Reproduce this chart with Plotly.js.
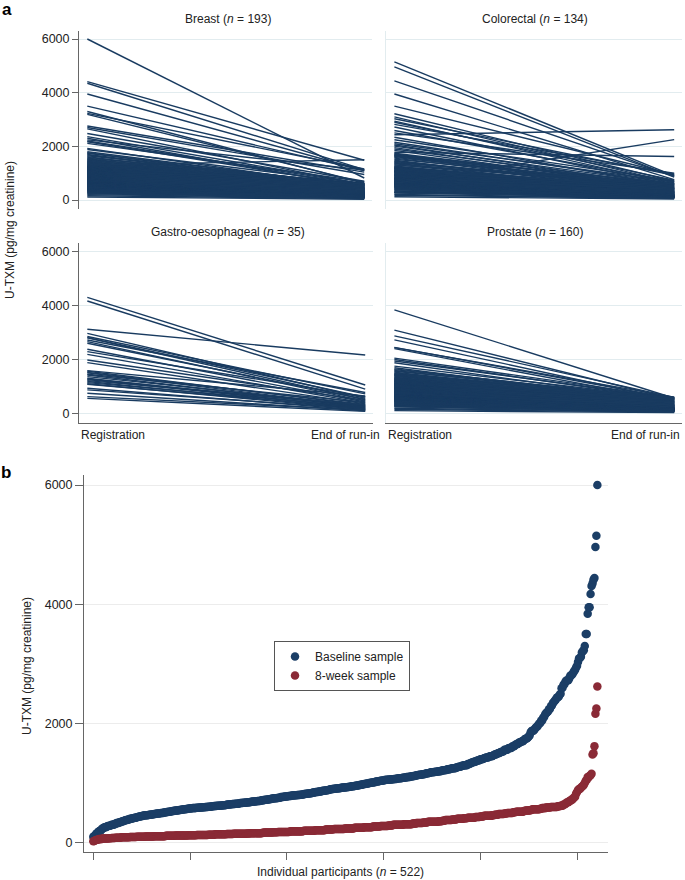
<!DOCTYPE html>
<html><head><meta charset="utf-8">
<script src="https://cdn.plot.ly/plotly-3.0.1.min.js"></script>
<style>html,body{margin:0;padding:0;background:#fff}#chart{width:685px;height:880px}</style>
</head><body><div id="chart"></div>
<script>
const timeLabels = ['Registration', 'End of run-in'];
const yTicks = [0, 2000, 4000, 6000];
const participantTicks = [0, 100, 200, 300, 400, 500];
const cancerNames = ['Breast', 'Colorectal', 'Gastro-oesophageal', 'Prostate'];
const cancerN = [193, 134, 35, 160];
const seriesNames = ['Baseline sample', '8-week sample'];

const breastReg = [6000,4410,4350,3950,3500,3300,3230,3190,2760,2700,2650,2480,2360,2300,2240,2200,2170,2110,1925,1880,1800,1760,1740,1700,1680,1650,1615,
1590,1560,1535,1510,1490,1470,1450,
1430,1415,1400,1385,1370,1350,1335,1320,1300,1290,1275,1260,1250,1240,1230,1220,1210,1200,1195,
1185,1180,1170,1165,1155,1150,1140,1130,1125,1115,1110,1100,1095,1090,1080,1075,1070,1065,1060,1055,
1045,1040,1030,1025,1015,1010,1000,995,990,980,970,965,960,950,945,940,935,925,920,915,
905,900,895,885,880,870,865,860,850,845,840,830,825,820,815,805,800,795,790,785,
775,770,765,755,750,745,740,735,725,720,715,710,700,695,690,685,680,675,670,665,
655,652,648,645,640,636,632,628,625,620,616,612,608,604,600,595,590,586,582,578,
572,565,560,552,545,540,535,528,520,515,508,500,495,490,485,478,472,465,460,455,
445,435,425,415,410,400,390,380,370,360,345,330,315,300,280,260,
235,200,160,110];
const breastEnd = [820,1480,1130,1100,1100,620,1155,650,1040,950,560,700,600,480,1120,590,520,680,450,610,500,380,540,420,350,570,300,
540,610,420,580,350,500,290,
460,250,600,380,520,310,440,200,1500,560,330,480,230,410,590,270,360,180,450,
530,210,390,300,470,160,560,250,340,420,190,600,280,370,140,510,230,320,440,260,
400,170,290,550,220,360,130,480,310,240,410,150,520,270,350,200,460,120,330,250,
380,140,260,490,200,310,110,420,230,170,350,270,150,450,190,300,125,240,400,160,
330,180,250,120,430,210,150,290,100,360,195,270,140,220,390,115,250,175,310,135,
280,150,210,105,340,175,125,240,190,95,300,160,220,130,260,110,185,145,230,120,
250,130,180,100,205,150,90,220,165,115,190,140,85,210,125,170,105,155,75,135,
180,110,145,90,160,120,70,135,100,150,80,115,95,125,60,105,
90,70,50,30];

const colorectalReg = [5150,4960,4440,3950,3500,3215,3100,3030,2940,2900,2820,2720,2590,2500,2430,2340,2245,2150,2095,2050,2010,1950,1900,1850,1780,1745,1720,1700,1680,1660,1640,1620,
1590,1560,1520,1480,1450,
1430,1400,1380,1350,1320,1300,1270,1250,1230,1215,1200,1190,
1180,1165,1150,1135,1120,1105,1090,1080,1070,1060,1055,1050,
1040,1025,1010,1000,985,970,955,945,935,925,915,910,
900,890,875,860,850,835,820,810,800,795,790,785,
775,765,750,740,730,720,710,700,690,680,670,665,
655,650,640,630,620,615,605,600,595,590,585,580,
570,560,550,540,530,520,510,500,490,480,470,460,
440,420,400,380,350,330,300,290,280,260,
210,180,120];
const colorectalEnd = [900,850,880,760,940,700,640,920,600,740,970,560,680,1000,2620,520,720,610,670,470,580,430,540,390,1620,500,350,590,450,300,620,410,
480,330,560,270,430,
380,520,240,450,310,600,200,400,290,350,170,470,
260,420,150,340,220,500,180,300,130,390,240,160,
310,140,440,200,260,120,370,180,230,330,110,280,
210,350,130,270,160,400,110,240,190,300,145,225,
170,260,100,320,140,210,120,280,155,190,230,110,
150,240,95,190,125,2250,165,105,210,135,180,115,
140,200,90,160,115,175,100,130,85,150,110,125,
95,140,80,120,105,70,90,115,85,100,
75,60,40];

const gastroReg = [4305,4170,3120,2970,2850,2810,2800,2720,2660,2600,2380,2290,2190,1980,1880,1585,1560,1520,1500,1450,1420,1360,1300,1275,1250,1215,1180,1140,1100,1075,930,870,745,620,555];
const gastroEnd = [1050,900,2165,560,720,600,500,770,450,520,420,620,380,480,350,640,300,330,250,400,220,280,180,260,200,310,150,230,130,190,110,160,90,120,70];

const prostateReg = [3840,3090,2875,2725,2450,2440,2400,2050,2000,1940,1875,1750,1690,1650,1620,
1590,1560,1530,1500,1480,1460,1440,
1430,1410,1400,1380,1360,1340,1320,1300,1290,1280,1260,1250,1240,1230,1220,1210,1200,1190,
1185,1175,1160,1150,1140,1130,1120,1110,1100,1095,1085,1080,1070,1065,1060,1055,1050,
1045,1035,1025,1015,1005,995,985,975,965,955,945,940,930,925,920,915,910,
905,895,880,870,860,850,840,830,825,815,810,805,800,795,790,785,780,
775,765,755,745,735,725,715,705,700,695,690,685,680,675,670,665,660,
655,650,645,640,630,625,620,615,610,605,600,596,592,588,584,580,577,
572,565,555,548,540,532,525,515,505,498,490,482,475,468,462,456,451,
445,430,420,405,390,375,360,345,330,315,300,285,270,255,
240,190,150,100];
const prostateEnd = [560,520,590,480,540,600,450,580,510,570,430,550,400,490,530,
470,560,380,520,440,590,350,
500,310,420,260,580,370,220,460,330,540,280,400,190,350,490,240,430,300,
270,450,180,360,230,510,150,320,410,200,290,130,380,250,170,340,210,
300,160,420,230,120,350,190,270,140,390,210,110,320,250,175,145,280,
240,130,300,180,110,260,160,340,200,125,220,150,280,105,190,145,230,
170,250,120,200,140,310,100,180,230,130,160,95,210,150,115,190,135,
160,110,200,135,90,175,125,240,145,105,190,120,155,85,170,130,115,
140,95,180,120,160,80,135,105,150,115,90,170,125,100,145,110,85,
120,80,140,100,70,115,90,130,75,105,65,95,85,60,
70,55,45,25];

// ---------- helpers ----------
const W = 685, H = 880;
const fx = v => v / W;
const fy = v => 1 - v / H;
const NAVY = '#193b60';
const BLUE = '#1b3e66';
const RED = '#8a2a36';
const AXIS = '#666666';
const GRID = '#e2ecef';
const FONT = 'Liberation Sans, Arial, Helvetica, sans-serif';

function spaghetti(reg, end, xa, ya) {
  const x = [], y = [];
  for (let i = 0; i < reg.length; i++) {
    x.push(timeLabels[0], timeLabels[1], null);
    y.push(reg[i], end[i], null);
  }
  return {type: 'scatter', mode: 'lines', x: x, y: y, xaxis: xa, yaxis: ya,
    line: {color: NAVY, width: 1.4}, hoverinfo: 'skip', showlegend: false, connectgaps: false};
}

const groups = [
  [breastReg, breastEnd, 'x', 'y'],
  [colorectalReg, colorectalEnd, 'x2', 'y2'],
  [gastroReg, gastroEnd, 'x3', 'y3'],
  [prostateReg, prostateEnd, 'x4', 'y4']
];
const traces = groups.map(g => spaghetti(g[0], g[1], g[2], g[3]));

const allReg = [].concat(breastReg, colorectalReg, gastroReg, prostateReg).sort((a, b) => a - b);
const allEnd = [].concat(breastEnd, colorectalEnd, gastroEnd, prostateEnd).sort((a, b) => a - b);
const ranks = allReg.map((_, i) => i);

traces.push({type: 'scatter', mode: 'markers', name: seriesNames[0], x: ranks, y: allReg,
  xaxis: 'x5', yaxis: 'y5', marker: {color: BLUE, size: 8.5}, hoverinfo: 'skip'});
traces.push({type: 'scatter', mode: 'markers', name: seriesNames[1], x: ranks, y: allEnd,
  xaxis: 'x5', yaxis: 'y5', marker: {color: RED, size: 8.5}, hoverinfo: 'skip'});

// ---------- axes ----------
const catRange = [-0.03, 1.028];
function xa(d0, d1, line, anchor) {
  return {domain: [fx(d0), fx(d1)], type: 'category', categoryarray: timeLabels, range: catRange,
    showgrid: false, zeroline: false, showticklabels: false, ticks: '',
    showline: line, linecolor: AXIS, linewidth: 1, anchor: anchor, fixedrange: true};
}
function ya(top, bottom, rng, left, anchor) {
  return {domain: [fy(bottom), fy(top)], range: rng, tickvals: yTicks,
    showticklabels: left, ticks: left ? 'outside' : '', ticklen: 6, tickcolor: AXIS,
    showline: true, linecolor: left ? AXIS : GRID, linewidth: 1,
    showgrid: true, gridcolor: GRID, gridwidth: 1, zeroline: false,
    tickfont: {size: 12.5, color: '#222', family: FONT}, anchor: anchor, fixedrange: true};
}

const layout = {
  width: W, height: H, margin: {l: 0, r: 0, t: 0, b: 0},
  paper_bgcolor: '#fff', plot_bgcolor: 'rgba(0,0,0,0)',
  font: {family: FONT, size: 12, color: '#222'},
  xaxis: xa(79, 372, false, 'y'),
  yaxis: ya(31, 209, [-335, 6298], true, 'x'),
  xaxis2: xa(386, 682, false, 'y2'),
  yaxis2: ya(31, 209, [-335, 6298], false, 'x2'),
  xaxis3: xa(79, 373, true, 'y3'),
  yaxis3: ya(243, 423, [-360, 6323], true, 'x3'),
  xaxis4: xa(386, 682, true, 'y4'),
  yaxis4: ya(243, 423, [-360, 6323], false, 'x4'),
  xaxis5: {domain: [fx(84), fx(608)], range: [-9.6, 532], tickvals: participantTicks,
    ticks: 'outside', ticklen: 7, tickcolor: AXIS, showticklabels: false,
    showline: true, linecolor: AXIS, linewidth: 1, showgrid: false, zeroline: false, anchor: 'y5', fixedrange: true},
  yaxis5: {domain: [fy(852), fy(475)], range: [-156, 6168], tickvals: yTicks,
    ticks: 'outside', ticklen: 8, tickcolor: AXIS, showline: true, linecolor: AXIS, linewidth: 1,
    showgrid: true, gridcolor: '#ececec', zeroline: false,
    tickfont: {size: 12.5, color: '#222', family: FONT}, anchor: 'x5', fixedrange: true},
  showlegend: true,
  legend: {x: fx(274), y: fy(641), xanchor: 'left', yanchor: 'top', bgcolor: '#fff',
    bordercolor: '#555', borderwidth: 1, font: {size: 12, color: '#222', family: FONT},
    itemwidth: 30, tracegroupgap: 0},
  annotations: []
};

const ann = layout.annotations;
function addText(text, x, y, opts) {
  ann.push(Object.assign({text: text, x: fx(x), y: fy(y), xref: 'paper', yref: 'paper',
    showarrow: false, xanchor: 'center', yanchor: 'middle',
    font: {size: 12, color: '#222', family: FONT}}, opts || {}));
}
const titlePos = [[228, 19], [535, 19], [228, 232], [535, 232]];
cancerNames.forEach((nm, i) => addText(nm + ' (<i>n</i> = ' + cancerN[i] + ')', titlePos[i][0], titlePos[i][1]));
[[79, 382], [386, 682]].forEach(p => {
  addText(timeLabels[0], p[0], 435, {xanchor: 'left'});
  addText(timeLabels[1], p[1], 435, {xanchor: 'right'});
});
addText('U-TXM (pg/mg creatinine)', 10, 230, {textangle: -90});
addText('U-TXM (pg/mg creatinine)', 27, 666, {textangle: -90});
addText('Individual participants (<i>n</i> = 522)', 340, 872);
addText('<b>a</b>', 7, 10, {font: {size: 17, color: '#000', family: FONT}});
addText('<b>b</b>', 6, 472, {font: {size: 17, color: '#000', family: FONT}});

Plotly.newPlot('chart', traces, layout, {displayModeBar: false, responsive: false});
</script>
</body></html>
